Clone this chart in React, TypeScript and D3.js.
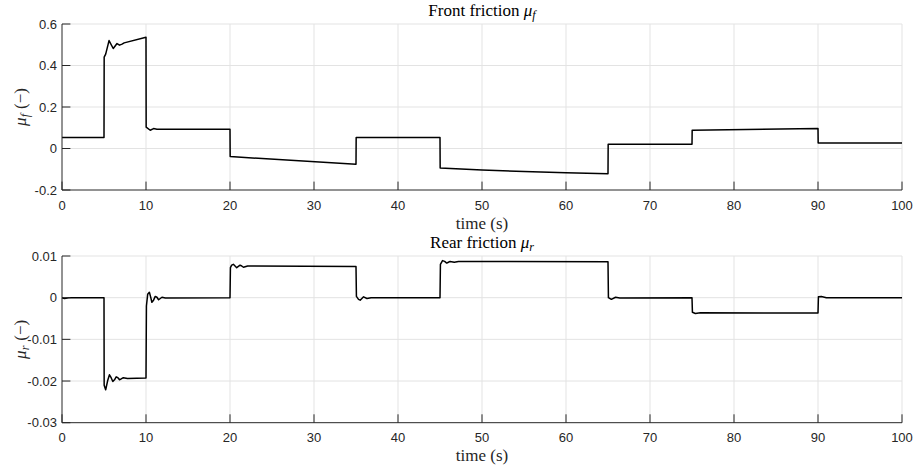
import React from "react";
import * as d3 from "d3";

const W = 918;
const H = 466;

const xTicks = [0, 10, 20, 30, 40, 50, 60, 70, 80, 90, 100];
const frontTicks = [-0.2, 0, 0.2, 0.4, 0.6];
const frontTickLabels = ["-0.2", "0", "0.2", "0.4", "0.6"];
const rearTicks = [-0.03, -0.02, -0.01, 0, 0.01];
const rearTickLabels = ["-0.03", "-0.02", "-0.01", "0", "0.01"];

const frontT = [0, 5, 5.02, 5.2, 5.6, 6.1, 6.55, 6.85, 7.15, 7.4, 10, 10.02, 10.5, 10.9, 11.3, 20, 20.02, 35, 35.02, 45, 45.02, 50, 55, 60, 65, 65.02, 75, 75.02, 90, 90.02, 100];
const frontV = [0.053, 0.053, 0.44, 0.455, 0.52, 0.482, 0.506, 0.498, 0.503, 0.509, 0.536, 0.103, 0.088, 0.096, 0.093, 0.093, -0.039, -0.076, 0.053, 0.053, -0.094, -0.104, -0.111, -0.117, -0.122, 0.021, 0.021, 0.088, 0.096, 0.027, 0.027];

const rearT = [0, 0.3, 0.8, 5, 5.02, 5.2, 5.45, 5.65, 5.85, 6.05, 6.25, 6.45, 6.65, 6.85, 7.05, 7.3, 7.8, 10, 10.05, 10.2, 10.4, 10.55, 10.7, 10.9, 11.1, 11.3, 11.5, 11.9, 12.3, 20, 20.05, 20.2, 20.4, 20.6, 20.8, 21.0, 21.2, 21.4, 21.6, 22.1, 35, 35.05, 35.3, 35.5, 35.7, 35.9, 36.3, 36.8, 45, 45.05, 45.3, 45.55, 45.8, 46.0, 46.2, 46.7, 47.2, 65, 65.05, 65.4, 65.9, 66.4, 75, 75.05, 75.4, 76, 90, 90.05, 90.4, 91, 100];
const rearV = [0, -0.0002, 0, 0, -0.021, -0.0221, -0.0198, -0.0185, -0.0192, -0.0201, -0.0197, -0.019, -0.0192, -0.0197, -0.0195, -0.0192, -0.0194, -0.0193, -0.002, 0.0008, 0.0013, 0.0002, -0.0011, -0.0006, 0.0003, 0.0001, -0.0005, 0.0001, -0.0001, 0, 0.0072, 0.0078, 0.008, 0.0076, 0.0072, 0.0075, 0.0078, 0.0076, 0.0073, 0.0076, 0.0075, 0.0003, -0.0004, -0.0006, -0.0002, 0.0002, -0.0002, 0, 0, 0.008, 0.0089, 0.0087, 0.0083, 0.0085, 0.0087, 0.0085, 0.0087, 0.0086, 0, -0.0004, 0.0001, -0.0001, 0, -0.0035, -0.0038, -0.0036, -0.0037, 0.0002, 0.0003, 0, 0];

const TXT = "#262626";
const GRID = "#e3e3e3";
const SANS = "'Liberation Sans', Arial, Helvetica, sans-serif";
const SERIF = "'Liberation Serif', 'Times New Roman', serif";

type PanelProps = {
  top: number;
  bottom: number;
  yDomain: [number, number];
  yTicks: number[];
  yLabels: string[];
  t: number[];
  v: number[];
  title: string;
  sub: string;
};

function Panel({ top, bottom, yDomain, yTicks, yLabels, t, v, title, sub }: PanelProps) {
  const left = 62;
  const right = 902;
  const x = d3.scaleLinear().domain([0, 100]).range([left, right]);
  const y = d3.scaleLinear().domain(yDomain).range([bottom, top]);
  const pts: [number, number][] = t.map((ti, i) => [ti, v[i]]);
  const line = d3
    .line<[number, number]>()
    .x((d) => x(d[0]))
    .y((d) => y(d[1]));
  const tickLen = 8.4;
  const midY = (top + bottom) / 2;
  return (
    <g>
      {xTicks.map((tk) =>
        tk === 0 ? null : (
          <line key={"gx" + tk} x1={x(tk)} x2={x(tk)} y1={top} y2={bottom} stroke={GRID} strokeWidth={1} />
        )
      )}
      {yTicks.map((tk) =>
        tk === yDomain[0] ? null : (
          <line key={"gy" + tk} x1={left} x2={right} y1={y(tk)} y2={y(tk)} stroke={GRID} strokeWidth={1} />
        )
      )}
      <path d={line(pts) || ""} fill="none" stroke="#000" strokeWidth={1.5} strokeLinejoin="round" />
      <line x1={left} x2={right} y1={bottom} y2={bottom} stroke={TXT} strokeWidth={1} />
      <line x1={left} x2={left} y1={top} y2={bottom} stroke={TXT} strokeWidth={1} />
      {xTicks.map((tk) => (
        <g key={"xt" + tk}>
          <line x1={x(tk)} x2={x(tk)} y1={bottom} y2={bottom - tickLen} stroke={TXT} strokeWidth={1} />
          <text x={x(tk)} y={bottom + 19.5} textAnchor="middle" fontFamily={SANS} fontSize={13} fill={TXT}>
            {String(tk)}
          </text>
        </g>
      ))}
      {yTicks.map((tk, i) => (
        <g key={"yt" + tk}>
          <line x1={left} x2={left + tickLen} y1={y(tk)} y2={y(tk)} stroke={TXT} strokeWidth={1} />
          <text x={left - 5} y={y(tk) + 4.5} textAnchor="end" fontFamily={SANS} fontSize={13} fill={TXT}>
            {yLabels[i]}
          </text>
        </g>
      ))}
      <text x={(left + right) / 2} y={top - 8} textAnchor="middle" fontFamily={SERIF} fontSize={17} fill="#000">
        {title}
        <tspan fontStyle="italic">μ</tspan>
        <tspan fontStyle="italic" fontSize={12} dy={3}>
          {sub}
        </tspan>
      </text>
      <text x={(left + right) / 2} y={bottom + 38.5} textAnchor="middle" fontFamily={SERIF} fontSize={17} fill={TXT}>
        time (s)
      </text>
      <text
        transform={`translate(26,${midY}) rotate(-90)`}
        textAnchor="middle"
        fontFamily={SERIF}
        fontSize={17}
        fill={TXT}
      >
        <tspan fontStyle="italic">μ</tspan>
        <tspan fontStyle="italic" fontSize={12} dy={3}>
          {sub}
        </tspan>
        <tspan dy={-3} dx={5}>(−)</tspan>
      </text>
    </g>
  );
}

export default function App() {
  return (
    <svg
      width={W}
      height={H}
      viewBox={`0 0 ${W} ${H}`}
      style={{ position: "absolute", left: 0, top: 0, background: "#fff" }}
    >
      <rect x={0} y={0} width={W} height={H} fill="#fff" />
      <Panel
        top={24}
        bottom={190}
        yDomain={[-0.2, 0.6]}
        yTicks={frontTicks}
        yLabels={frontTickLabels}
        t={frontT}
        v={frontV}
        title="Front friction "
        sub="f"
      />
      <Panel
        top={256}
        bottom={422.7}
        yDomain={[-0.03, 0.01]}
        yTicks={rearTicks}
        yLabels={rearTickLabels}
        t={rearT}
        v={rearV}
        title="Rear friction "
        sub="r"
      />
    </svg>
  );
}
